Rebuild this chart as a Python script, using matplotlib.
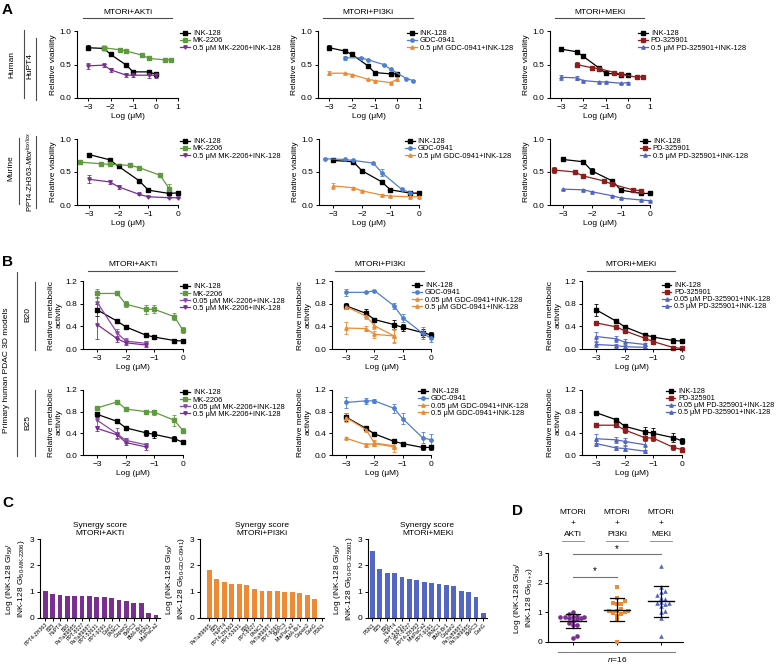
import numpy as np
import matplotlib
matplotlib.use('Agg')
import matplotlib.pyplot as plt
from matplotlib.lines import Line2D

plt.rcParams['font.family'] = ['Liberation Sans', 'DejaVu Sans']
plt.rcParams['mathtext.fontset'] = 'custom'
plt.rcParams['mathtext.rm'] = 'Liberation Sans'
plt.rcParams['mathtext.it'] = 'Liberation Sans:italic'
plt.rcParams['axes.linewidth'] = 0.8

# dose grids (log uM)
x7 = [-3, -2.3, -2, -1.3, -1, -0.3, 0]
x4 = [-3, -2.3, -2, -1.3]
x_single_hu = [-2.3, -1.6, -1.3, -0.6, -0.3, 0.4, 0.7]
x_single_mu = [-3.3, -2.6, -2.3, -1.6, -1.3, -0.6, -0.3]

# colours
BLACK = 'black'
GREEN = '#5f9a3e'
PURPLE = '#7a2f90'
PURPLE2 = '#8a4aa8'
BLUE = '#4f7fd0'
ORANGE = '#ec8a35'
RED = '#8e1d1d'
MBLUE = '#5466c4'

# ---- panel A, human HuPT4 ----
a1_akt_ink = [0.75, 0.74, 0.65, 0.49, 0.39, 0.39, 0.355]
a1_akt_ink_e = [0.04, 0.02, 0.03, 0.02, 0.02, 0.03, 0.04]
a1_akt_mk = [0.75, 0.72, 0.70, 0.64, 0.59, 0.57, 0.57]
a1_akt_mk_e = [0.02, 0.03, 0.03, 0.03, 0.02, 0.03, 0.03]
a1_akt_cmb = [0.48, 0.49, 0.42, 0.34, 0.34, 0.34, 0.34]
a1_akt_cmb_e = [0.04, 0.02, 0.03, 0.03, 0.03, 0.04, 0.04]

a1_pi3_ink = [0.75, 0.70, 0.65, 0.48, 0.38, 0.36, 0.36]
a1_pi3_ink_e = [0.04, 0.01, 0.01, 0.01, 0.01, 0.01, 0.02]
a1_pi3_gdc = [0.60, 0.60, 0.57, 0.50, 0.43, 0.29, 0.26]
a1_pi3_gdc_e = [0.03, 0.01, 0.01, 0.01, 0.01, 0.01, 0.01]
a1_pi3_cmb = [0.37, 0.37, 0.35, 0.28, 0.26, 0.23, 0.28]
a1_pi3_cmb_e = [0.03, 0.01, 0.01, 0.01, 0.01, 0.01, 0.03]

a1_mek_ink = [0.73, 0.69, 0.62, 0.45, 0.37, 0.35, 0.35]
a1_mek_ink_e = [0.03, 0.01, 0.03, 0.02, 0.01, 0.03, 0.03]
a1_mek_pd = [0.50, 0.45, 0.44, 0.38, 0.355, 0.31, 0.32]
a1_mek_pd_e = [0.04, 0.03, 0.02, 0.02, 0.02, 0.02, 0.03]
a1_mek_cmb = [0.31, 0.30, 0.26, 0.24, 0.24, 0.22, 0.23]
a1_mek_cmb_e = [0.04, 0.03, 0.01, 0.01, 0.01, 0.01, 0.01]

# ---- panel A, murine ----
a2_akt_ink = [0.765, 0.685, 0.585, 0.365, 0.225, 0.175, 0.185]
a2_akt_ink_e = [0.03, 0.01, 0.01, 0.03, 0.02, 0.02, 0.01]
a2_akt_mk = [0.65, 0.625, 0.615, 0.60, 0.565, 0.45, 0.25]
a2_akt_mk_e = [0.01, 0.01, 0.01, 0.01, 0.01, 0.01, 0.07]
a2_akt_cmb = [0.39, 0.35, 0.275, 0.16, 0.125, 0.11, 0.11]
a2_akt_cmb_e = [0.06, 0.03, 0.03, 0.01, 0.01, 0.01, 0.01]

a2_pi3_ink = [0.675, 0.655, 0.52, 0.35, 0.23, 0.18, 0.18]
a2_pi3_ink_e = [0.02, 0.02, 0.03, 0.03, 0.01, 0.01, 0.01]
a2_pi3_gdc = [0.70, 0.69, 0.675, 0.635, 0.49, 0.235, 0.185]
a2_pi3_gdc_e = [0.01, 0.01, 0.01, 0.01, 0.05, 0.03, 0.01]
a2_pi3_cmb = [0.29, 0.26, 0.215, 0.15, 0.135, 0.125, 0.125]
a2_pi3_cmb_e = [0.04, 0.01, 0.01, 0.01, 0.01, 0.01, 0.01]

a2_mek_ink = [0.69, 0.655, 0.515, 0.365, 0.225, 0.175, 0.175]
a2_mek_ink_e = [0.01, 0.02, 0.04, 0.03, 0.02, 0.01, 0.01]
a2_mek_pd = [0.53, 0.50, 0.44, 0.365, 0.315, 0.23, 0.215]
a2_mek_pd_e = [0.05, 0.01, 0.01, 0.01, 0.01, 0.01, 0.01]
a2_mek_cmb = [0.24, 0.23, 0.20, 0.14, 0.105, 0.075, 0.065]
a2_mek_cmb_e = [0.01, 0.01, 0.01, 0.01, 0.01, 0.01, 0.01]

# ---- panel B, B20 ----
b1_akt_ink = [0.69, 0.49, 0.39, 0.245, 0.21, 0.15, 0.14]
b1_akt_ink_e = [0.10, 0.01, 0.01, 0.03, 0.04, 0.03, 0.03]
b1_akt_mk = [0.98, 0.98, 0.79, 0.70, 0.70, 0.57, 0.33]
b1_akt_mk_e = [0.08, 0.03, 0.05, 0.08, 0.07, 0.06, 0.05]
b1_akt_c005 = [0.82, 0.28, 0.14, 0.10]
b1_akt_c005_e = [0.10, 0.08, 0.05, 0.05]
b1_akt_c05 = [0.43, 0.18, 0.11, 0.07]
b1_akt_c05_e = [0.25, 0.05, 0.04, 0.03]

b1_pi3_ink = [0.76, 0.63, 0.52, 0.43, 0.38, 0.29, 0.25]
b1_pi3_ink_e = [0.05, 0.07, 0.03, 0.08, 0.07, 0.07, 0.05]
b1_pi3_gdc = [1.0, 1.0, 1.03, 0.76, 0.55, 0.28, 0.19]
b1_pi3_gdc_e = [0.06, 0.01, 0.01, 0.06, 0.07, 0.10, 0.06]
b1_pi3_c005 = [0.75, 0.58, 0.41, 0.23]
b1_pi3_c005_e = [0.05, 0.05, 0.06, 0.12]
b1_pi3_c05 = [0.37, 0.36, 0.26, 0.23]
b1_pi3_c05_e = [0.10, 0.05, 0.06, 0.10]

b1_mek_ink = [0.69, 0.49, 0.39, 0.25, 0.21, 0.15, 0.14]
b1_mek_ink_e = [0.10, 0.01, 0.02, 0.02, 0.04, 0.04, 0.03]
b1_mek_pd = [0.46, 0.39, 0.32, 0.19, 0.13, 0.025, 0.01]
b1_mek_pd_e = [0.04, 0.04, 0.04, 0.03, 0.02, 0.02, 0.02]
b1_mek_c005 = [0.22, 0.18, 0.12, 0.08]
b1_mek_c005_e = [0.08, 0.05, 0.05, 0.03]
b1_mek_c05 = [0.08, 0.06, 0.04, 0.03]
b1_mek_c05_e = [0.04, 0.02, 0.02, 0.02]

# ---- panel B, B25 ----
b2_akt_ink = [0.75, 0.62, 0.50, 0.41, 0.38, 0.30, 0.235]
b2_akt_ink_e = [0.04, 0.02, 0.02, 0.06, 0.07, 0.05, 0.04]
b2_akt_mk = [0.87, 0.98, 0.85, 0.80, 0.79, 0.64, 0.45]
b2_akt_mk_e = [0.03, 0.04, 0.02, 0.04, 0.05, 0.10, 0.04]
b2_akt_c005 = [0.64, 0.39, 0.27, 0.19]
b2_akt_c005_e = [0.10, 0.10, 0.05, 0.04]
b2_akt_c05 = [0.49, 0.37, 0.23, 0.15]
b2_akt_c05_e = [0.05, 0.05, 0.05, 0.05]

b2_pi3_ink = [0.70, 0.49, 0.39, 0.25, 0.21, 0.14, 0.14]
b2_pi3_ink_e = [0.08, 0.03, 0.01, 0.03, 0.03, 0.05, 0.04]
b2_pi3_gdc = [0.97, 1.0, 1.0, 0.86, 0.67, 0.32, 0.28]
b2_pi3_gdc_e = [0.10, 0.05, 0.04, 0.08, 0.10, 0.10, 0.10]
b2_pi3_c005 = [0.69, 0.47, 0.22, 0.17]
b2_pi3_c005_e = [0.08, 0.03, 0.05, 0.05]
b2_pi3_c05 = [0.31, 0.19, 0.21, 0.15]
b2_pi3_c05_e = [0.02, 0.04, 0.05, 0.10]

b2_mek_ink = [0.78, 0.65, 0.53, 0.43, 0.40, 0.32, 0.26]
b2_mek_ink_e = [0.02, 0.01, 0.02, 0.08, 0.09, 0.08, 0.05]
b2_mek_pd = [0.55, 0.55, 0.46, 0.32, 0.31, 0.14, 0.10]
b2_mek_pd_e = [0.04, 0.04, 0.05, 0.06, 0.05, 0.04, 0.05]
b2_mek_c005 = [0.30, 0.28, 0.25, 0.19]
b2_mek_c005_e = [0.08, 0.06, 0.07, 0.09]
b2_mek_c05 = [0.21, 0.13, 0.12, 0.07]
b2_mek_c05_e = [0.05, 0.04, 0.04, 0.03]

# ---- panel C / D synergy scores ----
akt_lines = ['PPT4-ZH363', 'B25', 'HuPT4', 'B20', 'PaTu8988S', 'PPT-8027', 'PaTu8988T', 'PPT-53631',
             'PPT-9091', 'DanG', 'PANC1', 'Capan2', 'BxPC3', 'BMA-Br1', 'PSN1', 'MiaPaCa2']
akt_score = [1.02, 0.93, 0.89, 0.85, 0.85, 0.85, 0.84, 0.80, 0.80, 0.76, 0.70, 0.64, 0.57, 0.57, 0.20, 0.13]
pi3_lines = ['PaTu8988S', 'B25', 'HuPT4', 'PPT4-ZH363', 'PPT-53631', 'B20', 'PPT-8027', 'PANC1',
             'PaTu8988T', 'PPT-9091', 'BxPC3', 'MiaPaCa2', 'BMA-Br1', 'Capan2', 'DanG', 'PSN1']
pi3_score = [1.84, 1.48, 1.38, 1.30, 1.28, 1.27, 1.12, 1.04, 1.04, 1.04, 1.00, 0.99, 0.95, 0.89, 0.74, 0.0]
mek_lines = ['PSN1', 'B25', 'B20', 'HuPT4', 'PPT-53631', 'PPT-8027', 'PPT4-ZH363', 'MiaPaCa2',
             'PPT-9091', 'PANC1', 'BMA-Br1', 'Capan2', 'PaTu8988T', 'PaTu8988S', 'BxPC3', 'DanG']
mek_score = [2.56, 1.87, 1.72, 1.69, 1.57, 1.50, 1.46, 1.36, 1.32, 1.30, 1.27, 1.21, 1.03, 1.00, 0.80, 0.19]

W, H = 779, 665
fig = plt.figure(figsize=(W / 100, H / 100), dpi=100)


def box(l, r, t, b):
    return fig.add_axes([l / W, 1 - b / H, (r - l) / W, (b - t) / H])


def ftext(x, y, s, **kw):
    kw.setdefault('fontsize', 6)
    kw.setdefault('ha', 'center')
    kw.setdefault('va', 'center')
    fig.text(x / W, 1 - y / H, s, **kw)


def fline(x0, y0, x1, y1, lw=0.8, color='0.3'):
    fig.add_artist(Line2D([x0 / W, x1 / W], [1 - y0 / H, 1 - y1 / H], color=color, lw=lw,
                          transform=fig.transFigure))


def style(ax):
    ax.spines['top'].set_visible(False)
    ax.spines['right'].set_visible(False)
    ax.tick_params(labelsize=6, length=2.5, width=0.7, pad=1.5)


def curves(pos, series, xlim, xticks, yticks, ylabel, leg, fs=5.4):
    ax = box(*pos)
    style(ax)
    handles = []
    for x, y, e, c, m, lab in series:
        ax.errorbar(x, y, yerr=e, color=c, marker=m, ms=2.4, lw=0.9, elinewidth=0.6,
                    capsize=1.5, capthick=0.6, clip_on=False)
        handles.append(Line2D([], [], color=c, marker=m, ms=2.4, lw=0.9))
    ax.set_xlim(*xlim)
    ax.set_ylim(yticks[0], yticks[-1])
    ax.set_xticks(xticks)
    ax.set_yticks(yticks)
    ax.set_yticklabels([f'{v:.1f}' for v in yticks])
    ax.set_xlabel('Log (μM)', fontsize=6, labelpad=2)
    ax.set_ylabel(ylabel, fontsize=6, labelpad=2, linespacing=1.1)
    ax.legend(handles, [s[5] for s in series], loc='upper left', frameon=False, fontsize=fs,
              bbox_to_anchor=(leg[0] / W, 1 - leg[1] / H), bbox_transform=fig.transFigure,
              borderpad=0, borderaxespad=0, handlelength=1.3, handletextpad=0.4, labelspacing=0.0)
    return ax


def head(xc, x0, x1, y, s):
    ftext(xc, y, s)
    fline(x0, y + 6, x1, y + 6)


ya = [0.0, 0.5, 1.0]
yb = [0.0, 0.4, 0.8, 1.2]
xr1 = [-3, -2, -1, 0, 1]
xr2 = [-3, -2, -1, 0]
rv = 'Relative viability'
rm = 'Relative metabolic\nactivity'

# panel A row 1
curves((77, 178, 31, 98), [
    (x7, a1_akt_ink, a1_akt_ink_e, BLACK, 's', 'INK-128'),
    (x_single_hu, a1_akt_mk, a1_akt_mk_e, GREEN, 's', 'MK-2206'),
    (x7, a1_akt_cmb, a1_akt_cmb_e, PURPLE, 'v', '0.5 μM MK-2206+INK-128')],
    (-3.5, 1), xr1, ya, rv, (180, 30))
curves((318, 420, 31, 98), [
    (x7, a1_pi3_ink, a1_pi3_ink_e, BLACK, 's', 'INK-128'),
    (x_single_hu, a1_pi3_gdc, a1_pi3_gdc_e, BLUE, 'o', 'GDC-0941'),
    (x7, a1_pi3_cmb, a1_pi3_cmb_e, ORANGE, '^', '0.5 μM GDC-0941+INK-128')],
    (-3.5, 1), xr1, ya, rv, (407, 30))
curves((550, 650, 31, 98), [
    (x7, a1_mek_ink, a1_mek_ink_e, BLACK, 's', 'INK-128'),
    (x_single_hu, a1_mek_pd, a1_mek_pd_e, RED, 's', 'PD-325901'),
    (x7, a1_mek_cmb, a1_mek_cmb_e, MBLUE, '^', '0.5 μM PD-325901+INK-128')],
    (-3.5, 1), xr1, ya, rv, (638, 30))

# panel A row 2
curves((77, 178, 139, 205), [
    (x7, a2_akt_ink, a2_akt_ink_e, BLACK, 's', 'INK-128'),
    (x_single_mu, a2_akt_mk, a2_akt_mk_e, GREEN, 's', 'MK-2206'),
    (x7, a2_akt_cmb, a2_akt_cmb_e, PURPLE, 'v', '0.5 μM MK-2206+INK-128')],
    (-3.4, 0), xr2, ya, rv, (180, 138))
curves((319, 419, 139, 205), [
    (x7, a2_pi3_ink, a2_pi3_ink_e, BLACK, 's', 'INK-128'),
    (x_single_mu, a2_pi3_gdc, a2_pi3_gdc_e, BLUE, 'o', 'GDC-0941'),
    (x7, a2_pi3_cmb, a2_pi3_cmb_e, ORANGE, '^', '0.5 μM GDC-0941+INK-128')],
    (-3.5, 0), xr2, ya, rv, (405, 138))
curves((550, 650, 139, 205), [
    (x7, a2_mek_ink, a2_mek_ink_e, BLACK, 's', 'INK-128'),
    (x_single_mu, a2_mek_pd, a2_mek_pd_e, RED, 's', 'PD-325901'),
    (x7, a2_mek_cmb, a2_mek_cmb_e, MBLUE, '^', '0.5 μM PD-325901+INK-128')],
    (-3.45, 0), xr2, ya, rv, (640, 138))

# panel B rows
for (top, bot, lt), d in zip([(281, 349, 283), (390, 455, 389)], [
        (b1_akt_ink, b1_akt_ink_e, b1_akt_mk, b1_akt_mk_e, b1_akt_c005, b1_akt_c005_e, b1_akt_c05, b1_akt_c05_e,
         b1_pi3_ink, b1_pi3_ink_e, b1_pi3_gdc, b1_pi3_gdc_e, b1_pi3_c005, b1_pi3_c005_e, b1_pi3_c05, b1_pi3_c05_e,
         b1_mek_ink, b1_mek_ink_e, b1_mek_pd, b1_mek_pd_e, b1_mek_c005, b1_mek_c005_e, b1_mek_c05, b1_mek_c05_e),
        (b2_akt_ink, b2_akt_ink_e, b2_akt_mk, b2_akt_mk_e, b2_akt_c005, b2_akt_c005_e, b2_akt_c05, b2_akt_c05_e,
         b2_pi3_ink, b2_pi3_ink_e, b2_pi3_gdc, b2_pi3_gdc_e, b2_pi3_c005, b2_pi3_c005_e, b2_pi3_c05, b2_pi3_c05_e,
         b2_mek_ink, b2_mek_ink_e, b2_mek_pd, b2_mek_pd_e, b2_mek_c005, b2_mek_c005_e, b2_mek_c05, b2_mek_c05_e)]):
    curves((83, 183, top, bot), [
        (x7, d[0], d[1], BLACK, 's', 'INK-128'),
        (x7, d[2], d[3], GREEN, 's', 'MK-2206'),
        (x4, d[4], d[5], PURPLE2, 'v', '0.05 μM MK-2206+INK-128'),
        (x4, d[6], d[7], PURPLE, 'v', '0.5 μM MK-2206+INK-128')],
        (-3.5, 0), xr2, yb, rm, (180, lt))
    curves((332, 431, top, bot), [
        (x7, d[8], d[9], BLACK, 's', 'INK-128'),
        (x7, d[10], d[11], BLUE, 'o', 'GDC-0941'),
        (x4, d[12], d[13], ORANGE, '^', '0.05 μM GDC-0941+INK-128'),
        (x4, d[14], d[15], ORANGE, '^', '0.5 μM GDC-0941+INK-128')],
        (-3.5, 0), xr2, yb, rm, (412 if top < 300 else 418, lt - 1))
    curves((582, 682, top, bot), [
        (x7, d[16], d[17], BLACK, 's', 'INK-128'),
        (x7, d[18], d[19], RED, 's', 'PD-325901'),
        (x4, d[20], d[21], MBLUE, '^', '0.05 μM PD-325901+INK-128'),
        (x4, d[22], d[23], MBLUE, '^', '0.5 μM PD-325901+INK-128')],
        (-3.5, 0), xr2, yb, rm, (662 if top < 300 else 666, lt - 1), fs=5.2)

# headers
head(128, 83, 172, 12, 'MTORi+AKTi')
head(368, 323, 413, 12, 'MTORi+PI3Ki')
head(600, 555, 644, 12, 'MTORi+MEKi')
head(133, 88, 177, 265, 'MTORi+AKTi')
head(380, 335, 424, 265, 'MTORi+PI3Ki')
head(631, 587, 675, 265, 'MTORi+MEKi')

# side labels
ftext(12, 64, 'Human', rotation=90)
fline(24, 30, 24, 98)
ftext(30, 66, 'HuPT4', rotation=90)
fline(36, 38, 36, 100)
ftext(11, 168, 'Murine', rotation=90)
fline(19, 138, 19, 204)
ftext(30, 172, r'PPT4-ZH363-$\it{Mtor}^{lox/lox}$', rotation=90, fontsize=5.5)
fline(36, 136, 36, 208)
ftext(7, 370, 'Primary human PDAC 3D models', rotation=90)
fline(17, 272, 17, 456)
ftext(28, 315, 'B20', rotation=90)
fline(35, 282, 35, 350)
ftext(28, 422, 'B25', rotation=90)
fline(35, 390, 35, 456)

# panel letters
for lab, x, y in [('A', 2, 10), ('B', 2, 262), ('C', 2, 503), ('D', 512, 511)]:
    ftext(x, y, lab, fontsize=11, fontweight='bold', ha='left')

# panel C
bar_sets = [
    ((40, 160, 539, 618), akt_lines, akt_score, PURPLE, 'MTORi+AKTi', 'MK-2206', (-0.7, 15.55)),
    ((200, 324, 539, 618), pi3_lines, pi3_score, ORANGE, 'MTORi+PI3Ki', 'GDC-0941', (-1.2, 15.2)),
    ((368, 487, 539, 618), mek_lines, mek_score, MBLUE, 'MTORi+MEKi', 'PD-325901', (-0.6, 15.5)),
]
for pos, names, vals, col, ttl, drug, xl in bar_sets:
    ax = box(*pos)
    style(ax)
    xs = np.arange(len(vals))
    ax.bar(xs, vals, width=0.65, color=col)
    ax.set_xlim(*xl)
    ax.set_ylim(0, 3)
    ax.set_yticks([0, 1, 2, 3])
    ax.set_xticks(xs)
    ax.set_xticklabels(names, rotation=45, ha='right', fontsize=3.8, rotation_mode='anchor')
    ax.tick_params(axis='x', length=2, pad=1)
    ax.set_title('Synergy score\n' + ttl, fontsize=6, pad=3, linespacing=1.15)
    ax.set_ylabel('Log (INK-128 GI$_{50}$/\nINK-128 GI$_{\\mathrm{50\u2010' + drug.replace('-', '\u2010') + '}}$)',
                  fontsize=6, labelpad=2, linespacing=1.1)


def swarm(vals, d=3.8, sx=44.0, sy=29.7):
    pts = []
    offs = np.zeros(len(vals))
    cands = [0.0]
    for k in range(1, 14):
        cands += [k * d / 2, -k * d / 2]
    for i in np.argsort(vals):
        yp = vals[i] * sy
        for c in cands:
            if all((c - px) ** 2 + (yp - py) ** 2 >= d * d for px, py in pts):
                break
        pts.append((c, yp))
        offs[i] = c / sx
    return offs


# panel D
ax = box(548, 683, 553, 642)
style(ax)
for i, (vals, col, m) in enumerate([(akt_score, PURPLE, 'o'), (pi3_score, ORANGE, 's'), (mek_score, MBLUE, '^')]):
    v = np.array(vals)
    ax.scatter(i + swarm(v), v, s=11, color=col, marker=m, linewidths=0, clip_on=False, zorder=3)
    mu, sd = v.mean(), v.std(ddof=1)
    ax.plot([i - 0.3, i + 0.3], [mu, mu], color='black', lw=1, zorder=4)
    ax.plot([i, i], [mu - sd, mu + sd], color='black', lw=0.9, zorder=4)
    ax.plot([i - 0.15, i + 0.15], [mu + sd, mu + sd], color='black', lw=0.9, zorder=4)
    ax.plot([i - 0.15, i + 0.15], [mu - sd, mu - sd], color='black', lw=0.9, zorder=4)
ax.set_xlim(-0.57, 2.5)
ax.set_ylim(0, 3)
ax.set_yticks([0, 1, 2, 3])
ax.set_xticks([0, 1, 2])
ax.set_xticklabels([])
ax.plot([0, 2], [2.95, 2.95], color='0.45', lw=0.8, clip_on=False)
ax.text(1, 2.97, '*', ha='center', va='bottom', fontsize=7)
ax.plot([0, 1], [2.2, 2.2], color='0.45', lw=0.8, clip_on=False)
ax.text(0.5, 2.22, '*', ha='center', va='bottom', fontsize=7)
ax.set_ylabel('Log (INK-128 GI$_{50}$/\nINK-128 GI$_{50+x}$)', fontsize=6, labelpad=2, linespacing=1.1)

for xc, lab in [(573, 'AKTi'), (617, 'PI3Ki'), (661, 'MEKi')]:
    ftext(xc, 512, 'MTORi')
    ftext(xc, 523, '+')
    ftext(xc, 534, lab)
    fline(xc - 11, 541, xc + 11, 541, lw=0.6, color='0.5')
fline(558, 652, 675, 652, color='0.5')
ftext(617, 659, '$n$=16')

fig.savefig('out.png', dpi=100)
